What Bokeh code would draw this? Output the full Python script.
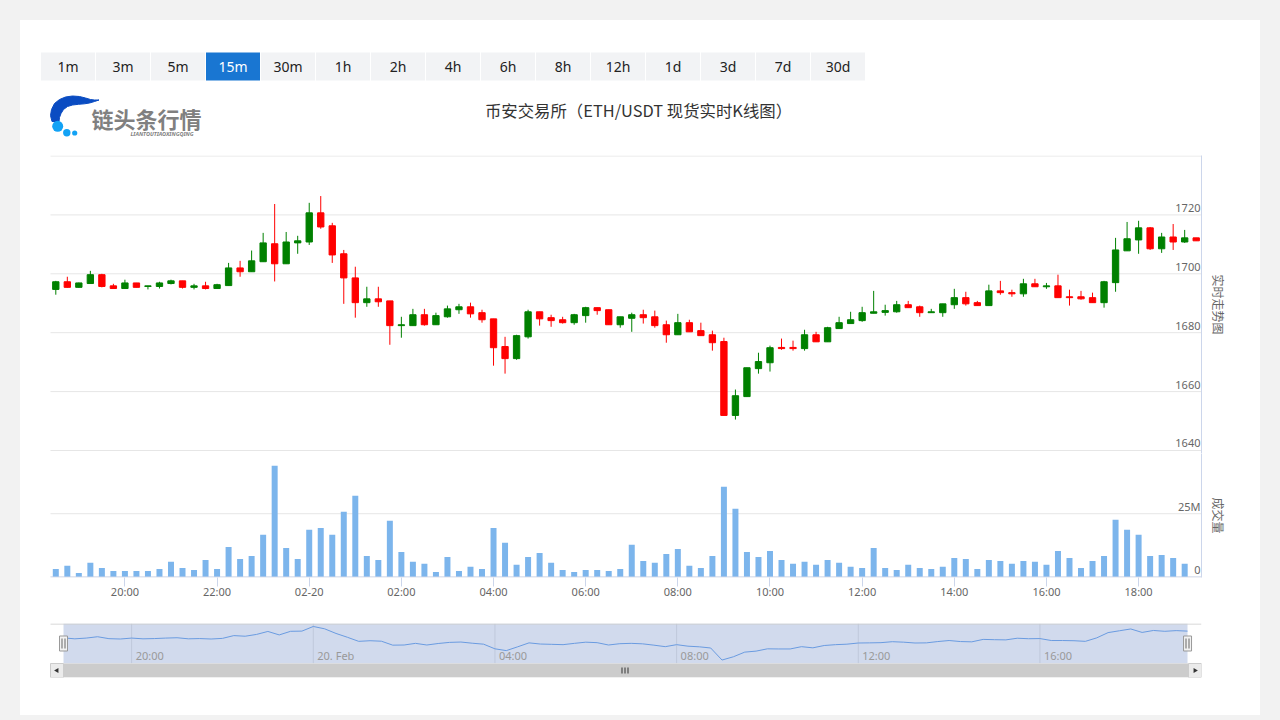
from math import pi
from bokeh.plotting import figure
from bokeh.models import Range1d, FixedTicker
from bokeh.layouts import column
from bokeh.embed import file_html
from bokeh.resources import INLINE
from bokeh.core.properties import value

# ---------------- data (15-minute ETH/USDT candles, 2/19 18:30 -> 2/20 19:15) -------------
opens = [1694.7, 1697.3, 1695.4, 1696.7, 1699.7, 1695.9, 1695.0, 1696.9, 1695.7, 1695.7,
         1696.7, 1697.6, 1695.4, 1695.9, 1695.0, 1696.0, 1702.0, 1700.7, 1704.1, 1710.2,
         1703.4, 1710.5, 1710.8, 1720.7, 1716.3, 1706.8, 1698.6, 1690.2, 1691.5, 1690.8,
         1682.4, 1682.4, 1686.1, 1682.7, 1685.4, 1687.8, 1688.8, 1686.8, 1684.7, 1675.3,
         1671.2, 1678.6, 1687.1, 1685.1, 1684.4, 1683.4, 1685.8, 1688.5, 1687.8, 1682.7,
         1684.9, 1686.1, 1685.4, 1682.7, 1679.3, 1683.4, 1680.7, 1679.3, 1677.0, 1651.9,
         1658.3, 1667.8, 1669.8, 1675.0, 1675.0, 1674.6, 1679.3, 1676.9, 1681.4, 1683.1,
         1684.1, 1686.6, 1686.9, 1687.1, 1689.5, 1688.8, 1686.8, 1686.8, 1689.5, 1691.9,
         1690.2, 1689.2, 1694.2, 1693.6, 1693.2, 1696.6, 1695.6, 1695.9, 1692.2, 1692.2,
         1691.9, 1690.2, 1697.0, 1707.8, 1711.5, 1715.6, 1708.5, 1712.5, 1710.8, 1712.2]
highs = [1697.6, 1699.0, 1697.0, 1701.0, 1700.0, 1696.6, 1698.0, 1696.9, 1695.9, 1697.3,
         1698.0, 1697.6, 1696.6, 1697.3, 1696.6, 1703.7, 1704.4, 1707.9, 1713.9, 1723.7,
         1714.2, 1712.9, 1724.1, 1726.4, 1717.3, 1708.1, 1702.4, 1695.6, 1695.6, 1690.8,
         1685.4, 1688.1, 1688.1, 1686.8, 1689.2, 1689.8, 1690.2, 1687.8, 1684.7, 1678.6,
         1679.3, 1687.8, 1687.1, 1686.1, 1685.4, 1686.4, 1688.8, 1688.5, 1687.8, 1685.4,
         1686.8, 1687.8, 1687.5, 1684.1, 1686.4, 1684.4, 1683.4, 1680.7, 1678.3, 1660.7,
         1668.1, 1673.2, 1675.6, 1678.0, 1677.3, 1681.0, 1680.3, 1682.0, 1685.4, 1687.1,
         1688.8, 1694.2, 1689.5, 1690.8, 1690.8, 1689.2, 1688.1, 1689.8, 1694.9, 1693.9,
         1690.8, 1696.3, 1697.6, 1694.6, 1698.3, 1698.3, 1696.9, 1699.7, 1694.6, 1694.2,
         1693.6, 1697.6, 1712.2, 1717.6, 1718.0, 1715.9, 1713.9, 1716.9, 1714.9, 1712.2]
lows = [1692.9, 1695.3, 1695.3, 1696.7, 1695.4, 1695.0, 1695.0, 1695.4, 1694.7, 1695.0,
        1696.4, 1695.0, 1694.7, 1694.7, 1695.0, 1696.0, 1699.0, 1700.7, 1704.1, 1697.4,
        1703.4, 1706.8, 1709.8, 1715.3, 1703.7, 1689.8, 1685.1, 1688.8, 1688.8, 1675.9,
        1678.3, 1682.4, 1682.4, 1682.7, 1685.1, 1686.4, 1685.1, 1683.4, 1668.8, 1666.1,
        1670.8, 1678.0, 1682.4, 1682.0, 1683.1, 1682.7, 1683.4, 1686.1, 1682.7, 1681.7,
        1680.3, 1683.1, 1681.7, 1676.6, 1679.3, 1680.3, 1679.0, 1673.9, 1651.9, 1650.5,
        1658.3, 1666.1, 1666.8, 1674.2, 1673.9, 1673.9, 1676.9, 1676.9, 1681.4, 1683.1,
        1683.7, 1686.6, 1685.8, 1686.8, 1688.5, 1685.4, 1686.8, 1685.4, 1688.1, 1689.2,
        1689.2, 1689.2, 1692.9, 1692.2, 1692.2, 1695.6, 1694.9, 1691.9, 1689.2, 1691.2,
        1690.2, 1688.5, 1693.9, 1707.8, 1706.8, 1708.1, 1707.1, 1708.1, 1710.5, 1711.2]
closes = [1697.3, 1695.4, 1696.9, 1699.7, 1695.7, 1695.0, 1696.9, 1695.4, 1695.9, 1696.9,
          1697.6, 1695.4, 1695.9, 1695.0, 1696.3, 1702.0, 1700.7, 1704.4, 1710.5, 1703.4,
          1710.8, 1711.2, 1720.7, 1715.9, 1706.4, 1698.6, 1690.2, 1691.5, 1690.5, 1682.4,
          1682.7, 1686.1, 1682.7, 1685.8, 1688.1, 1688.8, 1686.4, 1684.4, 1674.9, 1671.2,
          1679.0, 1687.1, 1684.7, 1684.1, 1683.4, 1686.1, 1688.5, 1687.5, 1682.7, 1685.4,
          1686.1, 1685.1, 1682.4, 1679.3, 1683.4, 1680.3, 1679.0, 1676.6, 1651.9, 1658.6,
          1668.1, 1670.2, 1674.9, 1674.6, 1674.6, 1679.3, 1676.9, 1681.7, 1683.4, 1684.4,
          1686.8, 1687.1, 1687.5, 1689.5, 1688.5, 1686.8, 1687.1, 1689.8, 1691.9, 1689.8,
          1689.2, 1694.2, 1693.6, 1693.2, 1696.6, 1695.6, 1695.9, 1691.9, 1691.9, 1691.5,
          1690.2, 1697.3, 1708.1, 1711.9, 1715.6, 1708.5, 1712.5, 1710.8, 1712.2, 1711.2]
volumes_m = [3.2, 4.4, 1.6, 5.6, 3.6, 2.4, 2.4, 2.4, 2.4, 3.2,
             6.0, 3.6, 2.8, 6.7, 3.2, 11.9, 7.1, 8.3, 16.7, 44.0,
             11.5, 7.1, 18.7, 19.4, 16.7, 25.8, 32.1, 8.3, 6.7, 22.2,
             9.9, 6.0, 5.2, 2.0, 7.9, 2.4, 4.0, 3.2, 19.4, 13.5,
             4.8, 7.9, 9.5, 5.6, 2.8, 2.0, 2.8, 2.8, 2.4, 3.2,
             12.7, 6.3, 5.6, 9.1, 11.1, 4.4, 3.6, 8.3, 35.7, 27.0,
             9.9, 7.9, 10.3, 6.7, 5.2, 6.0, 4.8, 6.7, 5.6, 4.0,
             3.6, 11.5, 3.6, 2.8, 4.8, 3.6, 3.2, 4.0, 7.5, 7.1,
             3.2, 6.7, 6.3, 5.2, 6.3, 6.0, 4.8, 10.3, 7.5, 3.6,
             6.3, 8.3, 22.6, 18.7, 16.7, 8.3, 8.7, 7.5, 5.2, 0.0]

x_tick_pos = [6, 14, 22, 30, 38, 46, 54, 62, 70, 78, 86, 94]
x_tick_labels = ["20:00", "22:00", "02-20", "02:00", "04:00", "06:00",
                 "08:00", "10:00", "12:00", "14:00", "16:00", "18:00"]
nav_tick_pos = [6, 22, 38, 54, 70, 86]
nav_tick_labels = ["20:00", "20. Feb", "04:00", "08:00", "12:00", "16:00"]
price_grid = [1640, 1660, 1680, 1700, 1720, 1740]
price_labels = [1640, 1660, 1680, 1700, 1720]
vol_grid = [0, 25e6]
vol_label_vals = [0, 25e6]
vol_label_text = ["0", "25M"]
intervals = ["1m", "3m", "5m", "15m", "30m", "1h", "2h", "4h", "6h", "8h", "12h", "1d", "3d", "7d", "30d"]
selected_interval = "15m"
title_text = "币安交易所（ETH/USDT 现货实时K线图）"

# ---------------- derived -------------
n = len(opens)
idx = list(range(n))
UP, DOWN = "#008000", "#ff0000"
colors = [UP if c >= o else DOWN for o, c in zip(opens, closes)]
body_top = [max(o, c) for o, c in zip(opens, closes)]
body_bot = [min(o, c) for o, c in zip(opens, closes)]
volumes = [v * 1e6 for v in volumes_m]

LATIN = value("Noto Sans")
CJK = value("Noto Sans CJK SC")
LABEL = "#666666"
GRID = "#e6e6e6"
AXIS = "#ccd6eb"
BL, BR = 20, 59          # shared frame borders (frames aligned by the column layout)

# main plot area spans candle-index -0.46 .. 99.46
plot_start = -0.46
x_range = Range1d(-1.328, 99.46)


def bare(fig):
    fig.xgrid.visible = False
    fig.ygrid.visible = False


# ---------------- header (buttons, logo, title) -------------
hdr = figure(width=1240, height=125, x_range=Range1d(40, 1201), y_range=Range1d(145, 20),
             toolbar_location=None, output_backend="svg", x_axis_location=None,
             y_axis_location=None, min_border_left=BL, min_border_right=BR,
             min_border_top=0, min_border_bottom=0, outline_line_color=None)
bare(hdr)
bx = [40 + 27.5 + 55 * i for i in range(len(intervals))]
hdr.rect(x=bx, y=66, width=54, height=28,
         fill_color=["#1976d2" if s == selected_interval else "#f2f3f5" for s in intervals],
         line_color=None)
hdr.text(x=bx, y=66, text=intervals, text_align="center", text_baseline="middle",
         text_color=["#ffffff" if s == selected_interval else "#222222" for s in intervals],
         text_font_size="14px", text_font=LATIN)
# logo
sw_x = [51.5, 50, 51, 54, 59, 65, 72, 79, 85, 90, 94, 98.5, 94, 89, 84, 78, 72, 67, 63, 60.5, 59, 58.5]
sw_y = [121, 115, 109, 103, 99, 96.5, 95.5, 96, 97.5, 99, 99.5, 99.5, 101, 102.5, 103.3, 103.8,
        104.5, 106, 109, 113, 117, 121]
hdr.patch(sw_x, sw_y, fill_color="#0a4cc2", line_color="#0a4cc2")
hdr.circle(x=[57.2, 66.3, 74.2], y=[125.8, 132.2, 132.5], radius=[5.5, 3.7, 2.6],
           fill_color="#12a2f5", line_color=None)
hdr.text(x=[91], y=[117.5], text=["链头条行情"], text_baseline="middle", text_align="left",
         text_font_size="22px", text_font_style="bold", text_color="#808080", text_font=CJK)
hdr.text(x=[130], y=[133.3], text=["LIANTOUTIAOXINGQING"], text_baseline="middle",
         text_align="left", text_font_size="5.5px", text_font_style="bold italic",
         text_color="#7f7f7f", text_font=LATIN)
hdr.text(x=[638], y=[109], text=[title_text], text_align="center", text_baseline="middle",
         text_font_size="16.4px", text_color="#333333", text_font=CJK)


def style_right_axis(ax, label):
    ax.ticker = FixedTicker(ticks=[], minor_ticks=[])
    ax.axis_label = label
    ax.axis_label_text_font = "Noto Sans CJK SC"
    ax.axis_label_text_font_size = "12px"
    ax.axis_label_text_font_style = "normal"
    ax.axis_label_text_color = LABEL
    ax.axis_label_standoff = 8
    ax.axis_line_color = AXIS
    ax.major_tick_out = 0
    ax.major_tick_in = 0
    ax.minor_tick_out = 0
    ax.minor_tick_in = 0


# ---------------- price pane (frame 155..453, 1640 at 450) -------------
pf = figure(width=1240, height=308, x_range=x_range, y_range=Range1d(1638.98, 1740.17),
            toolbar_location=None, output_backend="svg", x_axis_location=None,
            y_axis_location="right", min_border_left=BL, min_border_right=BR,
            min_border_top=10, min_border_bottom=0, outline_line_color=None)
bare(pf)
style_right_axis(pf.yaxis[0], "实时走势图")
pf.segment(x0=[plot_start] * len(price_grid), y0=price_grid,
           x1=[x_range.end] * len(price_grid), y1=price_grid, line_color=GRID, line_width=1)
pf.segment(x0=idx, y0=lows, x1=idx, y1=highs, line_color=colors, line_width=1)
pf.vbar(x=idx, width=0.55, top=body_top, bottom=body_bot, fill_color=colors, line_color=colors)
pf.text(x=[x_range.end] * len(price_labels), y=price_labels, text=[str(v) for v in price_labels],
        text_align="right", text_baseline="alphabetic", x_offset=-1, y_offset=-7,
        text_font_size="11px", text_color=LABEL, text_font=LATIN)

# ---------------- volume pane (frame 453..577) -------------
vf = figure(width=1240, height=167, x_range=x_range, y_range=Range1d(-0.2e6, 48.8e6),
            toolbar_location=None, output_backend="svg", x_axis_location="below",
            y_axis_location="right", min_border_left=BL, min_border_right=BR,
            min_border_top=0, min_border_bottom=43, outline_line_color=None)
bare(vf)
style_right_axis(vf.yaxis[0], "成交量")
xa = vf.xaxis[0]
xa.ticker = FixedTicker(ticks=x_tick_pos, minor_ticks=[])
xa.major_label_overrides = dict(zip(x_tick_pos, x_tick_labels))
xa.major_label_text_font = "Noto Sans"
xa.major_label_text_font_size = "11px"
xa.major_label_text_color = LABEL
xa.major_label_standoff = -3
xa.axis_line_color = None
xa.major_tick_line_color = AXIS
xa.major_tick_out = 9
xa.major_tick_in = 0
xa.minor_tick_line_color = None
vf.segment(x0=[plot_start] * len(vol_grid), y0=vol_grid,
           x1=[x_range.end] * len(vol_grid), y1=vol_grid, line_color=GRID, line_width=1)
vf.vbar(x=idx, width=0.52, top=volumes, bottom=0, fill_color="#7cb5ec", line_color=None)
vf.segment(x0=[plot_start], y0=[0], x1=[x_range.end], y1=[0], line_color=AXIS, line_width=1)
vf.text(x=[x_range.end] * len(vol_label_vals), y=vol_label_vals, text=vol_label_text,
        text_align="right", text_baseline="alphabetic", x_offset=-1, y_offset=-7,
        text_font_size="11px", text_color=LABEL, text_font=LATIN)

# ---------------- navigator + scrollbar -------------
nf = figure(width=1240, height=95, x_range=Range1d(-2.026, 100.23), y_range=Range1d(1616.1, 1726.8),
            toolbar_location=None, output_backend="svg", x_axis_location=None,
            y_axis_location=None, min_border_left=BL, min_border_right=BR,
            min_border_top=3, min_border_bottom=38, outline_line_color=None)
bare(nf)
nf.extra_x_ranges = {"px": Range1d(40, 1201)}
nf.extra_y_ranges = {"px": Range1d(677, 623)}
nf.segment(x0=nav_tick_pos, y0=623, x1=nav_tick_pos, y1=663, y_range_name="px",
           line_color=GRID, line_width=1)
nf.quad(left=[idx[0]], right=[idx[-1]], top=[623], bottom=[663], y_range_name="px",
        fill_color=(102, 133, 194), fill_alpha=0.3, line_color=None)
nf.line(idx, closes, line_color="#6a9be0", line_width=1)
nf.text(x=nav_tick_pos, y=655, text=nav_tick_labels, y_range_name="px", x_offset=4,
        text_align="left", text_baseline="middle", text_font_size="11px",
        text_color="#999999", text_font=LATIN)
nf.segment(x0=[50], y0=[623.5], x1=[1201], y1=[623.5], x_range_name="px", y_range_name="px",
           line_color="#cccccc", line_width=1)
# handles
nf.rect(x=[idx[0], idx[-1]], y=643, width=8, height=15, width_units="screen",
        height_units="screen", y_range_name="px", fill_color="#f2f2f2", line_color="#999999")
# scrollbar
nf.quad(left=[50], right=[1201], top=[663], bottom=[677], x_range_name="px", y_range_name="px",
        fill_color="#f2f2f2", line_color=None)
nf.quad(left=[63], right=[1188], top=[663], bottom=[677], x_range_name="px", y_range_name="px",
        fill_color="#cccccc", line_color=None)
nf.quad(left=[50, 1188], right=[63, 1201], top=[663, 663], bottom=[677, 677], x_range_name="px",
        y_range_name="px", fill_color="#ebebeb", line_color="#cccccc")
nf.scatter(x=[56.5, 1194.5], y=[670, 670], marker="triangle", angle=[pi / 2, -pi / 2], size=5,
           fill_color="#333333", line_color=None, x_range_name="px", y_range_name="px")
nf.segment(x0=[621.5, 624.5, 627.5], y0=667, x1=[621.5, 624.5, 627.5], y1=673,
           x_range_name="px", y_range_name="px", line_color="#333333")
nf.segment(x0=[61.5, 64.5, 1185.5, 1188.5], y0=638, x1=[61.5, 64.5, 1185.5, 1188.5], y1=648,
           x_range_name="px", y_range_name="px", line_color="#666666")

page = column(hdr, pf, vf, nf, spacing=0, margin=(20, 0, 0, 20),
              styles={"background-color": "#ffffff"})
html = file_html(page, INLINE)
html = html.replace("</head>",
                    "<style>html, body { background: #f2f2f2 !important; }</style></head>", 1)
open("out.html", "w").write(html)
